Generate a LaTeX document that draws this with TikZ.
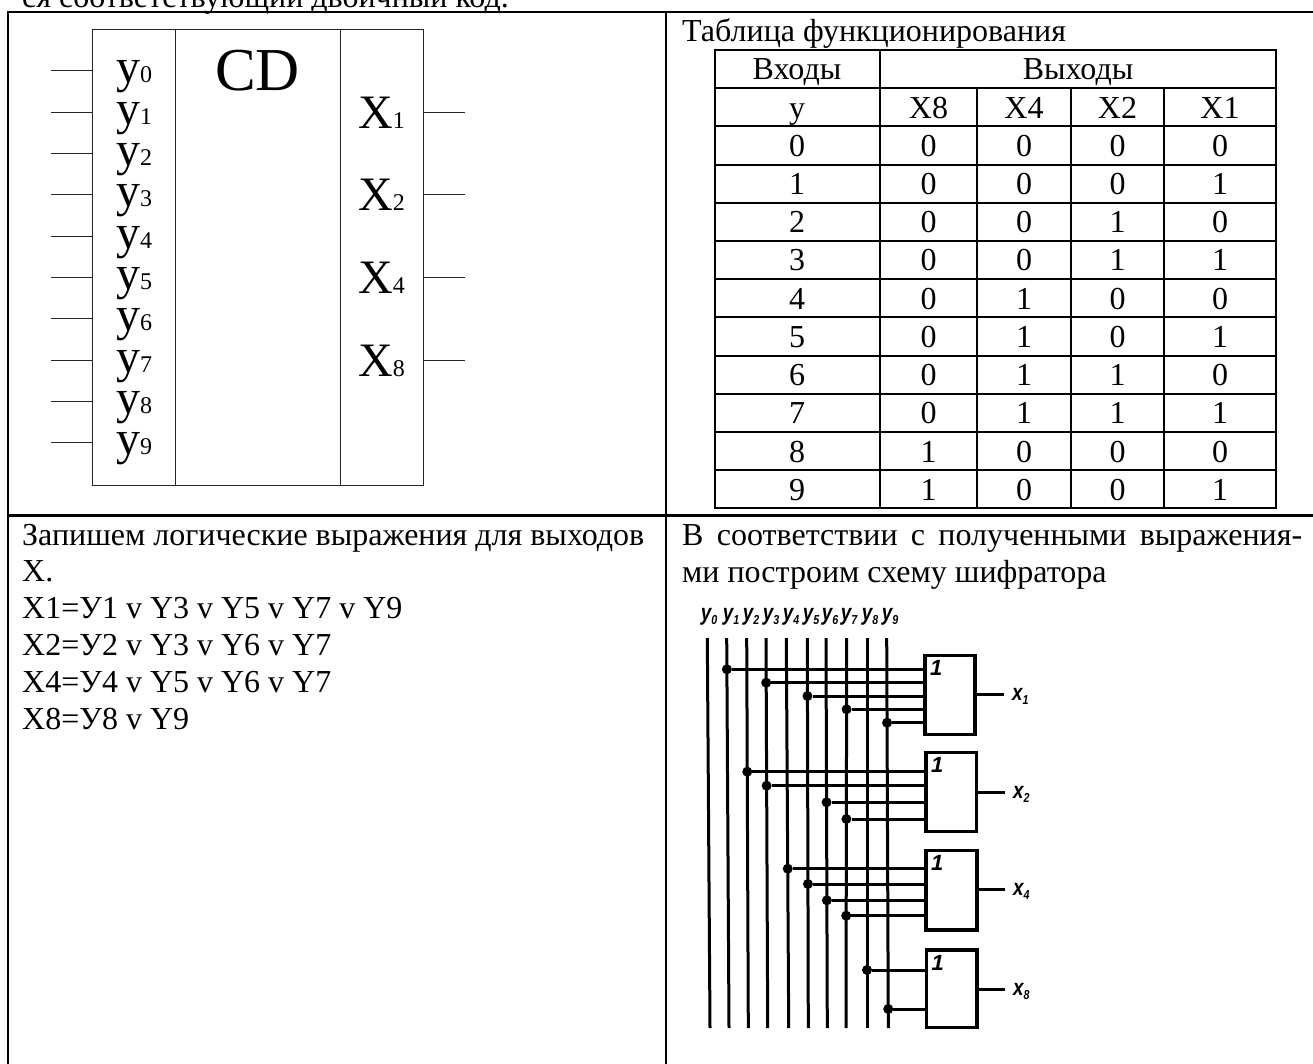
\documentclass[tikz,border=0pt]{standalone}
\usepackage{fontspec}
\setmainfont{Liberation Serif}
\newfontfamily\scanfont{Liberation Sans}
\usetikzlibrary{calc}
\newcommand{\scanlabel}[2]{\scalebox{0.82}[1]{\scanfont\bfseries\itshape\fontsize{23}{23}\selectfont #1\raisebox{-4pt}{\fontsize{13}{13}\selectfont #2}}}
\tikzset{
  frameline/.style={line width=2.5pt},
  gridline/.style={line width=2pt},
  chipline/.style={line width=1pt, black!85},
  wire/.style={line width=3pt},
  txt/.style={anchor=base west, inner sep=0pt, font=\fontsize{32}{36.8}\selectfont},
  cell/.style={anchor=base, inner sep=0pt, font=\fontsize{32}{36.8}\selectfont},
  chipbox/.style={draw, chipline, minimum width=331pt, minimum height=455.5pt, inner sep=0pt},
  gatebox/.style={draw, line width=3.5pt, fill=white, inner sep=0pt},
  tapdot/.style={circle, fill=black, minimum size=10pt, inner sep=0pt},
  scantag/.style={anchor=base, inner sep=0pt}
}

\begin{document}
\begin{tikzpicture}[x=1pt, y=-1pt]
    \clip[use as bounding box] (0,0) rectangle (1313,1064);
    \fill[white] (0,0) rectangle (1313,1064);

    % Page frame
    \draw[frameline] (1315,12) -- (8,12) -- (8,1066);
    \draw[frameline] (666,12) -- (666,1066);
    \draw[frameline] (8,515.7) -- (1315,515.7);
    \node[txt] (head) at (22,8) {ся соответствующий двоичный код.};

    % Encoder block
    \node[chipbox] (Chip) at (257.5,257.3) {};
    \draw[chipline] (175,29.5) -- (175,485);
    \draw[chipline] (340,29.5) -- (340,485);
    \node[anchor=base, inner sep=0pt, font=\fontsize{61}{61}\selectfont] (CD) at (257.5,90.7) {CD};
    \foreach \i in {0,...,9} {
        \pgfmathsetmacro{\py}{71+41.33*\i}
        \coordinate (in\i) at (51,\py);
        \draw[chipline] (in\i) -- (in\i -| Chip.west);
        \node[txt, font=\fontsize{48}{48}\selectfont] (y\i) at (116,\py+12) {y{\fontsize{24}{24}\selectfont\i}};
    }
    \foreach \i/\n in {0/1,1/2,2/4,3/8} {
        \pgfmathsetmacro{\py}{112.3+82.7*\i}
        \coordinate (out\n) at (465,\py);
        \draw[chipline] (out\n) -- (out\n -| Chip.east);
        \node[txt, font=\fontsize{48}{48}\selectfont] (x\n) at (358,\py+16) {X{\fontsize{24}{24}\selectfont\n}};
    }

    % Truth table
    \node[txt] (ttitle) at (682,41.7) {Таблица функционирования};
    \foreach \i in {0,...,12} {
        \draw[gridline] (714.6,50+38.2*\i) -- (1276,50+38.2*\i);
    }
    \foreach \cx in {714.6,880,1276} {
        \draw[gridline] (\cx,49) -- (\cx,509.4);
    }
    \foreach \cx in {977,1071,1164} {
        \draw[gridline] (\cx,88.2) -- (\cx,509.4);
    }
    \node[cell] (thin) at (797,80) {Входы};
    \node[cell] (thout) at (1078,80) {Выходы};
    \node[cell] (hy) at (797,118.2) {y};
    \node[cell] (h8) at (928.5,118.2) {X8};
    \node[cell] (h4) at (1024,118.2) {X4};
    \node[cell] (h2) at (1117.5,118.2) {X2};
    \node[cell] (h1) at (1220,118.2) {X1};
    \foreach \r/\a/\b/\c/\d [count=\i from 0] in {0/0/0/0/0,1/0/0/0/1,2/0/0/1/0,3/0/0/1/1,4/0/1/0/0,5/0/1/0/1,6/0/1/1/0,7/0/1/1/1,8/1/0/0/0,9/1/0/0/1} {
        \pgfmathsetmacro{\py}{156.4+38.2*\i}
        \node[cell] (r\i) at (797,\py) {\r};
        \node[cell] (a\i) at (928.5,\py) {\a};
        \node[cell] (b\i) at (1024,\py) {\b};
        \node[cell] (c\i) at (1117.5,\py) {\c};
        \node[cell] (d\i) at (1220,\py) {\d};
    }

    % Expressions
    \foreach \txtline [count=\i from 0] in {Запишем логические выражения для выходов, X., X1=У1 v Y3 v Y5 v Y7 v Y9, X2=У2 v Y3 v Y6 v Y7, X4=У4 v Y5 v Y6 v Y7, X8=У8 v Y9} {
        \node[txt] (expr\i) at (22,545+36.8*\i) {\txtline};
    }
    \node[txt] (cap1) at (682,545) {\hbox to 620pt{В соответствии с полученными выражения-}};
    \node[txt] (cap2) at (682,582) {ми построим схему шифратора};

    % Scheme: input rails
    \foreach \i/\tx/\bx/\lx/\s in {0/707.3/710/709/0,1/726.7/729/731/1,2/746.7/748.3/751/2,3/766/767.7/771/3,4/786.3/788.7/791/4,5/807.3/808.3/811/5,6/826/827.3/830/6,7/846.7/846/849/7,8/867/867/870/8,9/886.7/888.3/890/9} {
        \coordinate (t\i) at (\tx,638);
        \coordinate (b\i) at (\bx,1028);
        \draw[wire] (t\i) -- (b\i);
        \node[scantag] (lab\i) at (\lx,620) {\scanlabel{y}{\s}};
    }

    % Scheme: gates
    \node[gatebox, minimum width=50pt, minimum height=78.6pt] (G1) at (950,695) {};
    \node[gatebox, minimum width=50.7pt, minimum height=79pt] (G2) at (951.3,792.2) {};
    \node[gatebox, minimum width=51pt, minimum height=79.7pt] (G4) at (951.5,890.2) {};
    \node[gatebox, minimum width=50.5pt, minimum height=77.7pt] (G8) at (951.7,988.8) {};
    \foreach \g/\ox/\oy/\sub in {1/1004/694/1,2/1005/792.3/2,4/1005/889.3/4,8/1005/989/8} {
        \coordinate (o\g) at (\ox,\oy);
        \draw[wire] (G\g.east |- o\g) -- (o\g);
        \node[scantag, anchor=base west] (lx\g) at (\ox+8,\oy+6) {\scanlabel{x}{\sub}};
        \node[scantag, font=\scanfont\bfseries\itshape\fontsize{22}{22}\selectfont] (one\g) at ($(G\g.north west)+(13,22)$) {1};
    }

    % Scheme: taps
    \foreach \l/\py/\g in {1/669.3/1,3/682.7/1,5/696/1,7/709.3/1,9/722.7/1,2/771.7/2,3/785.7/2,6/802.3/2,7/819/2,4/868.7/4,5/884/4,6/900.3/4,7/915.7/4,8/970/8,9/1009/8} {
        \node[tapdot] (d\l-\g) at ($(t\l)!{(\py-638)/390}!(b\l)$) {};
        \draw[wire] (d\l-\g) -- (d\l-\g -| G\g.west);
    }
\end{tikzpicture}
\end{document}
